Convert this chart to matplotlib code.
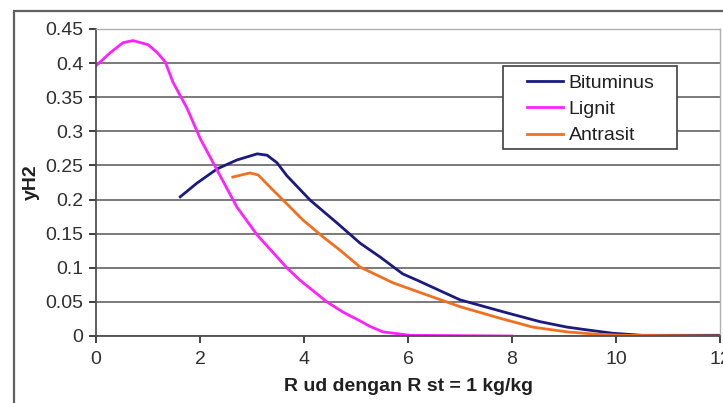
import matplotlib
matplotlib.use("Agg")
import matplotlib.pyplot as plt
from matplotlib.patches import Rectangle

plt.rcParams['font.family'] = ['Liberation Sans', 'DejaVu Sans']

# Data
bit_x = [1.62, 1.94, 2.33, 2.71, 3.10, 3.29, 3.48, 3.67, 4.12, 4.63, 5.08, 5.46, 5.90, 6.17, 7.0, 7.90, 8.54, 9.06, 9.44, 9.94, 10.5, 12.0]
bit_y = [0.204, 0.224, 0.245, 0.258, 0.267, 0.265, 0.254, 0.235, 0.199, 0.166, 0.136, 0.116, 0.091, 0.082, 0.053, 0.034, 0.021, 0.013, 0.009, 0.004, 0.001, 0.001]

lig_x = [0.0, 0.27, 0.52, 0.71, 1.0, 1.17, 1.33, 1.48, 1.75, 2.0, 2.33, 2.71, 3.10, 3.48, 3.67, 3.92, 4.44, 4.75, 5.08, 5.27, 5.52, 6.04, 8.0]
lig_y = [0.396, 0.415, 0.430, 0.433, 0.427, 0.416, 0.402, 0.372, 0.334, 0.290, 0.243, 0.189, 0.148, 0.116, 0.100, 0.082, 0.050, 0.035, 0.022, 0.014, 0.006, 0.001, 0.0]

ant_x = [2.63, 2.96, 3.12, 3.35, 3.60, 3.98, 4.37, 4.69, 5.08, 5.71, 6.37, 7.0, 7.77, 8.40, 9.06, 9.56, 10.1, 12.0]
ant_y = [0.233, 0.239, 0.236, 0.218, 0.199, 0.170, 0.145, 0.126, 0.101, 0.078, 0.060, 0.043, 0.026, 0.013, 0.006, 0.003, 0.001, 0.0]

series_names = ["Bituminus", "Lignit", "Antrasit"]
x_ticks = [0, 2, 4, 6, 8, 10, 12]
y_ticks = [0, 0.05, 0.1, 0.15, 0.2, 0.25, 0.3, 0.35, 0.4, 0.45]
y_tick_labels = ['0', '0.05', '0.1', '0.15', '0.2', '0.25', '0.3', '0.35', '0.4', '0.45']

W, H = 723, 403
fig = plt.figure(figsize=(W / 100, H / 100), dpi=100)
fig.patch.set_facecolor('white')

# outer chart frame
fig.add_artist(Rectangle((14 / W, -0.05), 1.0, (H - 11) / H + 0.05,
                         transform=fig.transFigure, fill=False,
                         edgecolor='#606060', linewidth=1.6))

L, R, T, B = 96, 720, 29, 336
ax = fig.add_axes([L / W, (H - B) / H, (R - L) / W, (B - T) / H])

ax.plot(bit_x, bit_y, color='#1a1a80', lw=2.0, label=series_names[0],
        solid_joinstyle='round')
ax.plot(lig_x, lig_y, color='#ff22ff', lw=2.0, label=series_names[1],
        solid_joinstyle='round')
ax.plot(ant_x, ant_y, color='#f07020', lw=2.0, label=series_names[2],
        solid_joinstyle='round')

ax.set_xlim(0, 12)
ax.set_ylim(0, 0.45)
ax.set_xticks(x_ticks)
ax.set_xticklabels([str(v) for v in x_ticks])
ax.set_yticks(y_ticks)
ax.set_yticklabels(y_tick_labels)
ax.grid(axis='y', color='#707070', lw=1.3)
ax.set_axisbelow(True)

for s in ['top', 'right']:
    ax.spines[s].set_color('#b0b0b0')
    ax.spines[s].set_linewidth(1.0)
for s in ['left', 'bottom']:
    ax.spines[s].set_color('#505050')
    ax.spines[s].set_linewidth(1.3)

ax.tick_params(axis='both', labelsize=14, colors='#303030', length=5, width=1.3,
               direction='out')
ax.tick_params(axis='x', pad=6)
ax.tick_params(axis='y', pad=4)

ax.set_xlabel('R ud dengan R st = 1 kg/kg', fontsize=14, fontweight='bold',
              color='#202020', labelpad=7)
ax.set_ylabel('yH2', fontsize=14, fontweight='bold', color='#202020', labelpad=4)

# legend
fig.add_artist(Rectangle((503 / W, (H - 149) / H), (677 - 503) / W, (149 - 66) / H,
                         transform=fig.transFigure, facecolor='white',
                         edgecolor='#404040', linewidth=1.2, zorder=5))
leg = fig.legend(loc='upper left', bbox_to_anchor=(527 / W, (H - 74) / H),
                 frameon=False, fontsize=14, handlelength=1.85,
                 handletextpad=0.3, labelspacing=0.45, borderpad=0.0,
                 borderaxespad=0.0)
leg.set_zorder(6)
for t in leg.get_texts():
    t.set_color('#202020')

fig.savefig('out.png', dpi=100)
